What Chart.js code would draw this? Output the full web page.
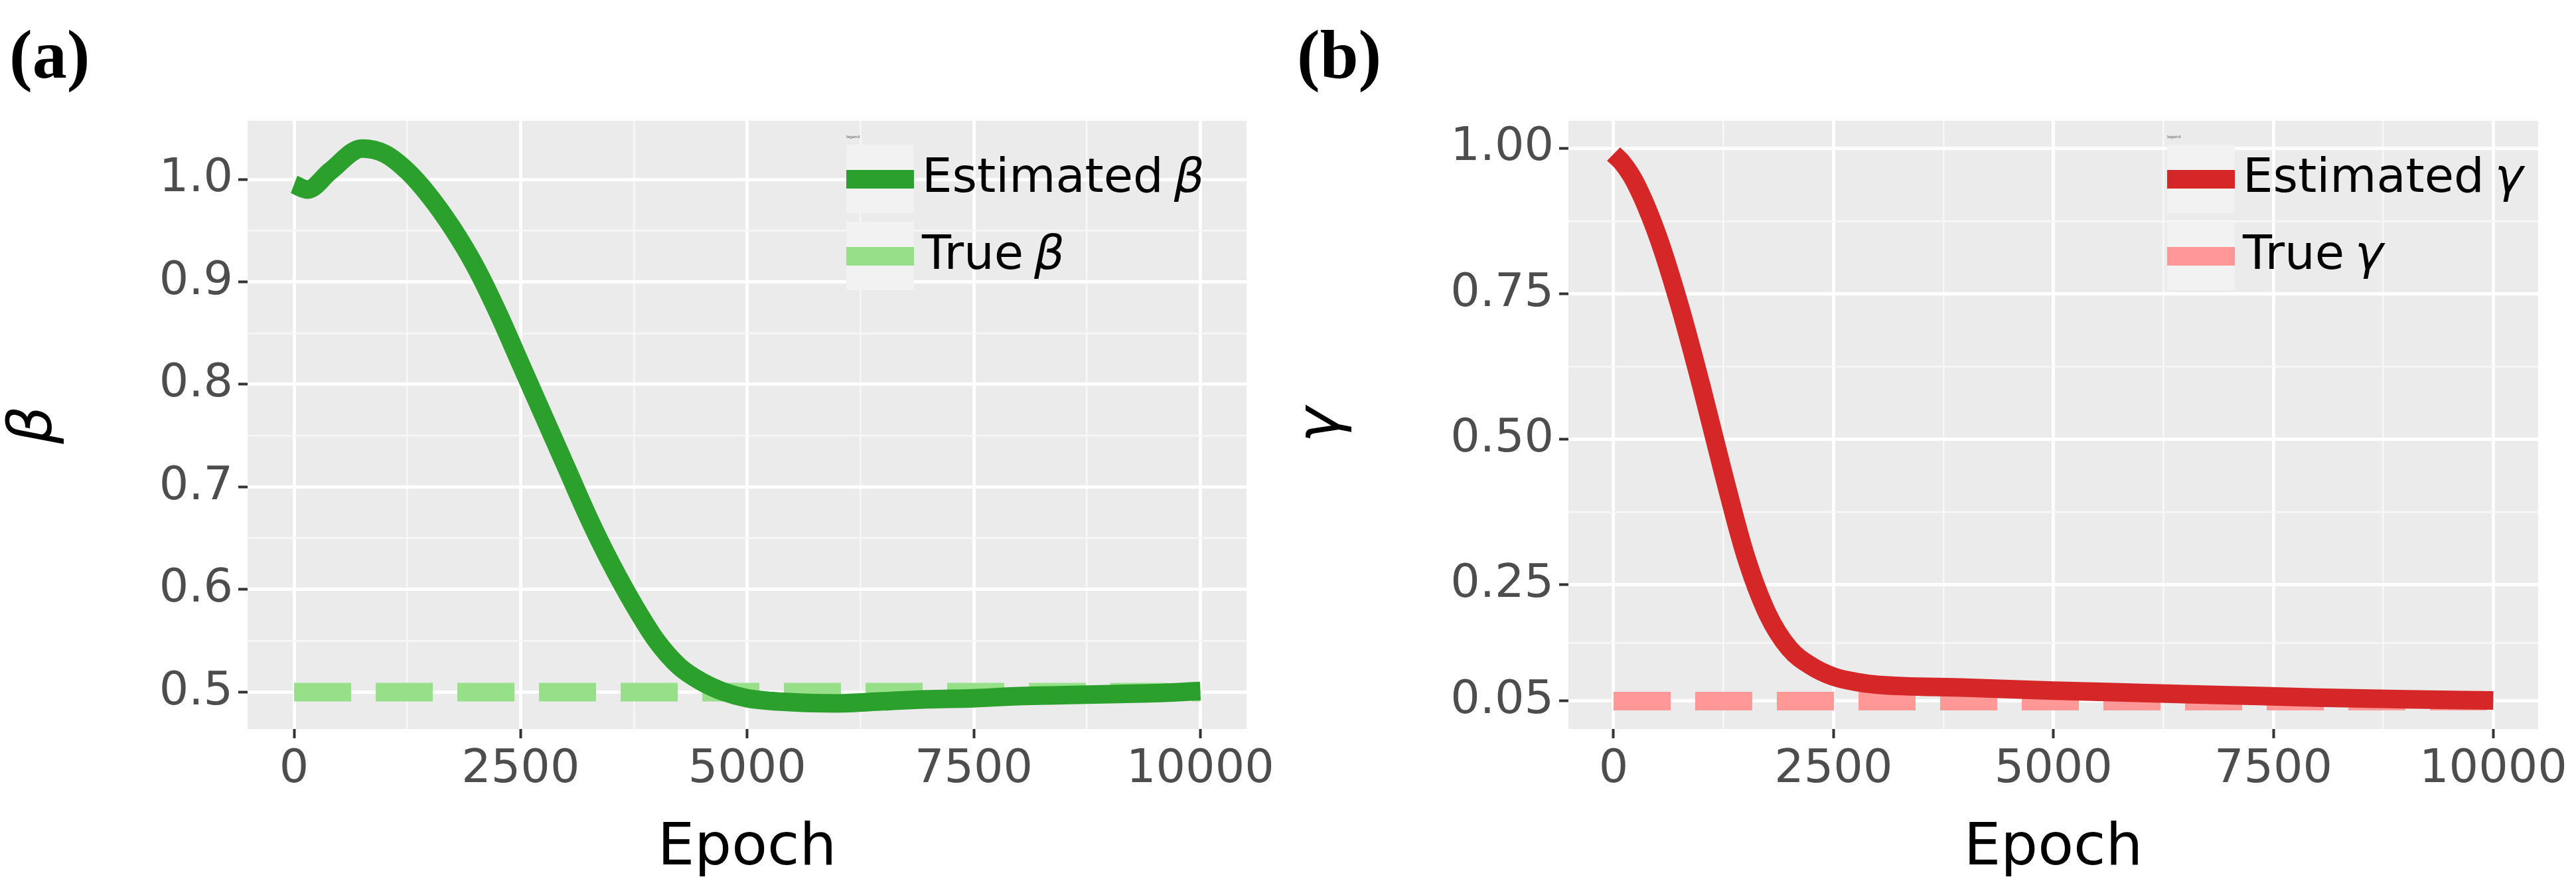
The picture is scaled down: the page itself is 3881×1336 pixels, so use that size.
<!DOCTYPE html>
<html>
<head>
<meta charset="utf-8">
<script src="https://cdn.jsdelivr.net/npm/chart.js@4.4.0/dist/chart.umd.min.js"></script>
<style>
  html, body { margin: 0; padding: 0; background: #fff; }
  .panel { position: absolute; top: 0; width: 1940px; height: 1336px; }
  .tag { position: absolute; top: 22px; left: 14px; font: bold 104px "Liberation Serif", serif; color: #000; }
</style>
</head>
<body>
<div class="panel" style="left:0"><canvas id="chartBeta" width="1940" height="1336"></canvas><div class="tag">(a)</div></div>
<div class="panel" style="left:1940px"><canvas id="chartGamma" width="1940" height="1336"></canvas><div class="tag">(b)</div></div>
<script>
// --- datos ---
const epochBeta = [0, 150, 400, 750, 1000, 1250, 1500, 1750, 2000, 2250, 2500, 2750, 3000, 3250, 3500, 3750, 4000, 4250, 4500, 4750, 5000, 5500, 6000, 6500, 7000, 7500, 8000, 8500, 9000, 9500, 10000];
const betaEst = [0.995, 0.99, 1.008, 1.03, 1.025, 1.008, 0.983, 0.952, 0.915, 0.87, 0.82, 0.77, 0.72, 0.67, 0.625, 0.585, 0.55, 0.525, 0.51, 0.5, 0.494, 0.49, 0.489, 0.491, 0.493, 0.494, 0.496, 0.497, 0.498, 0.499, 0.501];
const betaTrue = 0.5;

const epochGamma = [0, 100, 250, 500, 750, 1000, 1250, 1500, 1750, 2000, 2250, 2500, 2750, 3000, 4000, 5000, 6000, 7000, 8000, 9000, 10000];
const gammaEst = [0.99, 0.975, 0.94, 0.85, 0.73, 0.59, 0.44, 0.30, 0.20, 0.14, 0.11, 0.092, 0.083, 0.078, 0.073, 0.068, 0.064, 0.060, 0.056, 0.053, 0.051];
const gammaTrue = 0.05;

const xMajor = [0, 2500, 5000, 7500, 10000];
const xMinor = [1250, 3750, 6250, 8750];
const betaMajor = [0.5, 0.6, 0.7, 0.8, 0.9, 1.0];
const betaMinor = [0.55, 0.65, 0.75, 0.85, 0.95];
const gammaMajor = [0.05, 0.25, 0.5, 0.75, 1.0];
const gammaMinor = [0.15, 0.375, 0.625, 0.875];

const FONT = 'DejaVu Sans';

const panelBg = {
  id: 'panelBg',
  beforeDraw(chart) {
    const { ctx, chartArea: a } = chart;
    ctx.save();
    ctx.fillStyle = '#ebebeb';
    ctx.fillRect(a.left, a.top, a.right - a.left, a.bottom - a.top);
    ctx.restore();
  }
};

function legendPlugin(items) {
  return {
    id: 'ggLegend',
    afterDatasetsDraw(chart) {
      const { ctx, chartArea: a } = chart;
      const kx = a.left + 902, kw = 102;
      ctx.save();
      ctx.fillStyle = '#555';
      ctx.font = `6px ${FONT}`;
      ctx.fillText('legend', kx, a.top + 26);
      items.forEach((it, i) => {
        const top = a.top + 36 + i * 116;
        ctx.fillStyle = '#f2f2f2';
        ctx.fillRect(kx, top, kw, 103);
        ctx.fillStyle = it.color;
        ctx.fillRect(kx, top + 38, kw, 28);
        ctx.fillStyle = '#000';
        ctx.font = `72px ${FONT}`;
        ctx.textBaseline = 'middle';
        ctx.fillText(it.text, kx + kw + 12, top + 52);
        const w = ctx.measureText(it.text).width;
        ctx.font = `italic 72px ${FONT}`;
        ctx.fillText(it.sym, kx + kw + 12 + w + 16, top + 52);
      });
      ctx.restore();
    }
  };
}

function makeChart(id, epochs, est, trueVal, color, light, yMin, yMax, major, minor, sym, yLeft, padRight, fmt) {
  const isMajorX = v => xMajor.includes(v);
  const isMajorY = v => major.some(m => Math.abs(m - v) < 1e-9);
  new Chart(document.getElementById(id), {
    type: 'line',
    data: {
      datasets: [{
        data: epochs.map((e, i) => ({ x: e, y: est[i] })),
        borderColor: color, borderWidth: 28, pointRadius: 0, cubicInterpolationMode: 'monotone'
      }, {
        data: [{ x: 0, y: trueVal }, { x: 10000, y: trueVal }],
        borderColor: light, borderWidth: 28, pointRadius: 0, borderDash: [86, 37]
      }]
    },
    options: {
      responsive: false, animation: false,
      layout: { padding: { top: 182, right: padRight, left: 0, bottom: 0 } },
      plugins: { legend: { display: false }, tooltip: { enabled: false } },
      scales: {
        x: {
          type: 'linear', min: -513, max: 10510,
          afterBuildTicks: s => { s.ticks = [...xMajor, ...xMinor].map(v => ({ value: v })); },
          afterFit: s => { s.height = 238; },
          border: { display: false },
          grid: {
            color: c => isMajorX(c.tick.value) ? '#ffffff' : '#f7f7f7',
            lineWidth: c => isMajorX(c.tick.value) ? 5 : 2.5,
            tickColor: c => isMajorX(c.tick.value) ? '#333333' : 'rgba(0,0,0,0)',
            tickLength: 14, tickWidth: 4
          },
          ticks: {
            autoSkip: false, maxRotation: 0, color: '#4d4d4d', padding: 6,
            font: { family: FONT, size: 70 },
            callback: v => isMajorX(v) ? String(v) : ''
          },
          title: { display: true, text: 'Epoch', color: '#000', font: { family: FONT, size: 88 }, padding: { top: 0 } }
        },
        y: {
          min: yMin, max: yMax,
          afterBuildTicks: s => { s.ticks = [...major, ...minor].map(v => ({ value: v })); },
          afterFit: s => { s.width = yLeft; },
          border: { display: false },
          grid: {
            color: c => isMajorY(c.tick.value) ? '#ffffff' : '#f7f7f7',
            lineWidth: c => isMajorY(c.tick.value) ? 5 : 2.5,
            tickColor: c => isMajorY(c.tick.value) ? '#333333' : 'rgba(0,0,0,0)',
            tickLength: 14, tickWidth: 4
          },
          ticks: {
            autoSkip: false, color: '#4d4d4d', padding: 8,
            font: { family: FONT, size: 70 },
            callback: v => isMajorY(v) ? fmt(v) : ''
          },
          title: { display: true, text: sym, color: '#000', font: { family: FONT, size: 90, style: 'italic' }, padding: 0 }
        }
      }
    },
    plugins: [panelBg, legendPlugin([
      { text: 'Estimated', sym: sym, color: color },
      { text: 'True', sym: sym, color: light }
    ])]
  });
}

makeChart('chartBeta', epochBeta, betaEst, betaTrue, '#2ca02c', '#98df8a', 0.464, 1.057, betaMajor, betaMinor, 'β', 373, 62, v => v.toFixed(1));
makeChart('chartGamma', epochGamma, gammaEst, gammaTrue, '#d62728', '#ff9896', 0.002, 1.047, gammaMajor, gammaMinor, 'γ', 423, 56, v => v.toFixed(2));
</script>
</body>
</html>
